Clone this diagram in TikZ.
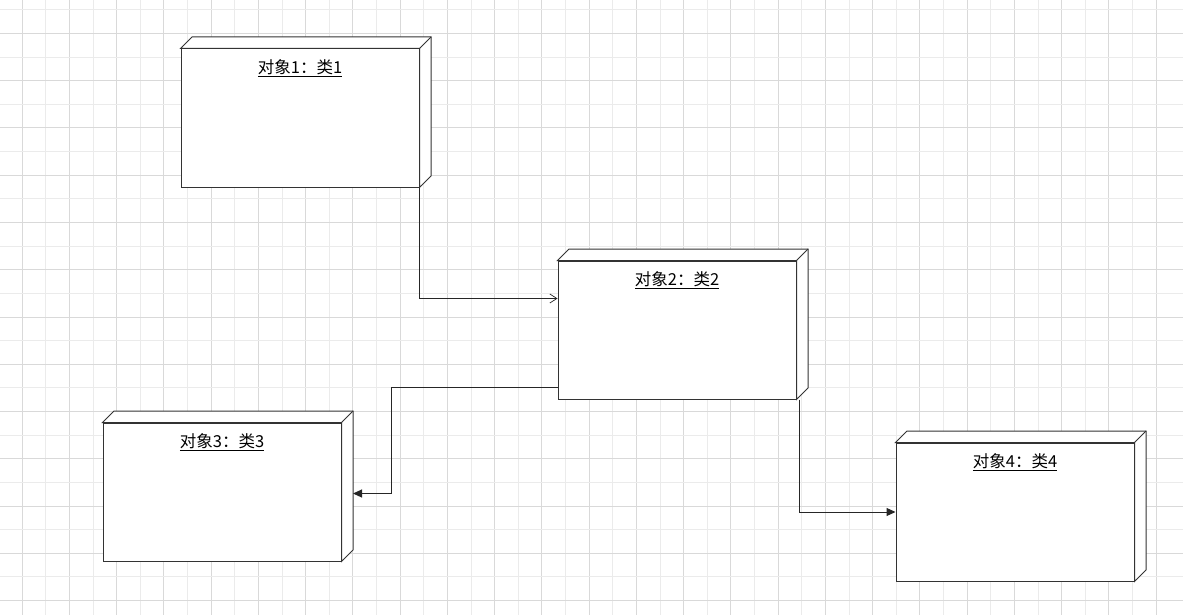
\documentclass[tikz,border=0pt]{standalone}
\usepackage{fontspec}
\setmainfont{Noto Sans CJK SC}
\usetikzlibrary{arrows.meta,positioning,calc}

% 3D side and top of a UML node box
\newcommand{\nodedepth}[1]{%
  \filldraw[boxline, fill=white] (#1.north west) -- ++(11.5pt,11.5pt)
    -- ([shift={(11.5pt,11.5pt)}]#1.north east)
    -- ([shift={(11.5pt,11.5pt)}]#1.south east)
    -- (#1.south east) -- (#1.north east) -- cycle;
  \draw[boxline] (#1.north east) -- ++(11.5pt,11.5pt);
}

\begin{document}
\begin{tikzpicture}[x=1pt, y=-1pt,
  boxline/.style={draw=black!80, line width=1pt},
  objnode/.style={boxline, rectangle, fill=white, minimum width=238pt, minimum height=138pt, inner sep=0pt},
  objtitle/.style={inner sep=0pt, font=\fontsize{16.5pt}{18pt}\selectfont},
  minorgrid/.style={draw=black!8, line width=1pt},
  majorgrid/.style={draw=black!15, line width=1pt},
  link/.style={draw=black!85, line width=1pt}]
\useasboundingbox (0,0) rectangle (1183,615);
\fill[white] (0,0) rectangle (1183,615);

% background grid
\foreach \i in {0,...,24} {
  \draw[minorgrid] ({-1.4+47.25*\i},0) -- ++(0,615);
  \draw[majorgrid] ({22.2+47.25*\i},0) -- ++(0,615);
}
\foreach \j in {0,...,12} {
  \draw[minorgrid] (0,{9.9+47.25*\j}) -- ++(1183,0);
  \draw[majorgrid] (0,{33.5+47.25*\j}) -- ++(1183,0);
}

% objects
\node[objnode] (obj1) at (300,118) {};
\nodedepth{obj1}
\node[objtitle, below=11pt of obj1.north] (title1) {\underline{对象1：类1}};

\node[objnode] (obj2) at (677,330) {};
\nodedepth{obj2}
\node[objtitle, below=11pt of obj2.north] (title2) {\underline{对象2：类2}};

\node[objnode] (obj3) at (222,492) {};
\nodedepth{obj3}
\node[objtitle, below=11pt of obj3.north] (title3) {\underline{对象3：类3}};

\node[objnode] (obj4) at (1015,512) {};
\nodedepth{obj4}
\node[objtitle, below=11pt of obj4.north] (title4) {\underline{对象4：类4}};

% links
\draw[link, -{Straight Barb[length=7pt, width=9pt, line width=0.7pt]}]
  ([xshift=-0.5pt]obj1.south east) |- ([yshift=-38pt]obj2.north west);
\draw[link, -{Triangle[length=9pt, width=8pt]}]
  ([yshift=12pt]obj2.south west) -- ++(-166,0) |- ([xshift=11.5pt, yshift=-1.5pt]obj3.east);
\draw[link, -{Triangle[length=9pt, width=8pt]}]
  ([xshift=2.5pt]obj2.south east) |- (obj4.west);
\end{tikzpicture}
\end{document}
